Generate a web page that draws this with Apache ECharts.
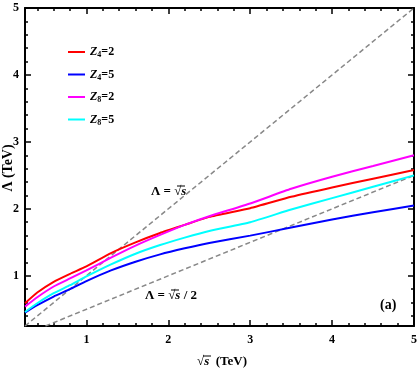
<!DOCTYPE html>
<html><head><meta charset="utf-8">
<script src="https://cdn.jsdelivr.net/npm/echarts@6/dist/echarts.min.js"></script>
<style>html,body{margin:0;padding:0;background:#fff}#c{width:420px;height:371px}</style>
</head><body><div id="c"></div>
<script>
// tick labels / tick positions
const xMajor = [1, 2, 3, 4, 5];
const yMajor = [1, 2, 3, 4, 5];
const minorTicks = [0.4,0.6,0.8,1.2,1.4,1.6,1.8,2.2,2.4,2.6,2.8,3.2,3.4,3.6,3.8,4.2,4.4,4.6,4.8];
const seriesNames = ['Z4=2', 'Z4=5', 'Z8=2', 'Z8=5'];
const seriesColors = ['#ff0000', '#0000ff', '#ff00ff', '#00ffff'];
// series values [sqrt(s) TeV, Lambda TeV]
const z4_2 = [[0.25,0.59],[0.4,0.75],[0.6,0.91],[0.8,1.03],[1.0,1.14],[1.3,1.34],[1.6,1.50],[1.9,1.64],[2.2,1.76],[2.5,1.88],[3.0,2.01],[3.5,2.18],[4.0,2.32],[4.5,2.45],[5.0,2.58]];
const z4_5 = [[0.25,0.45],[0.4,0.56],[0.6,0.69],[0.8,0.80],[1.0,0.92],[1.3,1.08],[1.6,1.21],[1.9,1.32],[2.2,1.41],[2.5,1.49],[3.0,1.60],[3.5,1.72],[4.0,1.84],[4.5,1.95],[5.0,2.05]];
const z8_2 = [[0.25,0.54],[0.4,0.68],[0.6,0.84],[0.8,0.96],[1.0,1.08],[1.3,1.27],[1.6,1.45],[1.9,1.61],[2.2,1.76],[2.5,1.89],[3.0,2.08],[3.5,2.30],[4.0,2.48],[4.5,2.64],[5.0,2.80]];
const z8_5 = [[0.25,0.46],[0.4,0.59],[0.6,0.74],[0.8,0.86],[1.0,0.99],[1.3,1.17],[1.6,1.33],[1.9,1.46],[2.2,1.57],[2.5,1.67],[3.0,1.80],[3.5,1.99],[4.0,2.16],[4.5,2.33],[5.0,2.50]];
// reference lines Lambda = sqrt(s), Lambda = sqrt(s)/2
const refLine1 = [[0.25,0.25],[5,5]];
const refLine2 = [[0.5,0.25],[5,2.5]];

const FONT = 'Liberation Serif';
const seriesData = [z4_2, z4_5, z8_2, z8_5];

function axis(dim, pos, ticks, len, labels, line) {
  return {
    type: 'value', min: 0.25, max: 5, position: pos,
    axisLine: {show: line, onZero: false, lineStyle: {color: '#000', width: 2}},
    axisTick: {show: true, inside: true, length: len, customValues: ticks, lineStyle: {color: '#000', width: 1.5}},
    axisLabel: labels ? {show: true, customValues: ticks, color: '#000', fontFamily: FONT, fontWeight: 'bold', fontSize: 12, margin: dim === 'x' ? 8 : 6} : {show: false},
    splitLine: {show: false}
  };
}

const chart = echarts.init(document.getElementById('c'));
const series = seriesNames.map((n, i) => ({
  name: n, type: 'line', data: seriesData[i], symbol: 'none', smooth: 0.15,
  lineStyle: {color: seriesColors[i], width: 2}, itemStyle: {color: seriesColors[i]}, z: 3
}));
series.push({name: 'ref1', type: 'line', data: refLine1, symbol: 'none', silent: true,
  lineStyle: {color: '#888', width: 1.5, type: [5, 3]}, z: 2});
series.push({name: 'ref2', type: 'line', data: refLine2, symbol: 'none', silent: true,
  lineStyle: {color: '#888', width: 1.5, type: [5, 3]}, z: 2});

const rich = {
  z: {fontFamily: FONT, fontStyle: 'italic', fontWeight: 'bold', fontSize: 12, lineHeight: 14, color: '#000'},
  s: {fontFamily: FONT, fontWeight: 'bold', fontSize: 8, lineHeight: 14, verticalAlign: 'bottom', color: '#000'},
  t: {fontFamily: FONT, fontWeight: 'bold', fontSize: 12, lineHeight: 14, color: '#000'}
};
const annRich = {
  a: {fontFamily: FONT, fontWeight: 'bold', fontSize: 13, fill: '#000'},
  b: {fontFamily: FONT, fontStyle: 'italic', fontWeight: 'bold', fontSize: 13, fill: '#000'}
};

chart.setOption({
  animation: false,
  grid: {left: 25, right: 3, top: 8, bottom: 45},
  xAxis: [
    axis('x', 'bottom', xMajor, 6, true, true),
    axis('x', 'bottom', minorTicks, 3, false, false),
    axis('x', 'top', xMajor, 6, false, true),
    axis('x', 'top', minorTicks, 3, false, false)
  ],
  yAxis: [
    axis('y', 'left', yMajor, 6, true, true),
    axis('y', 'left', minorTicks, 3, false, false),
    axis('y', 'right', yMajor, 6, false, true),
    axis('y', 'right', minorTicks, 3, false, false)
  ],
  legend: {
    data: seriesNames, orient: 'vertical', left: 63, top: 41,
    icon: 'rect', itemWidth: 17, itemHeight: 2, itemGap: 9.5,
    formatter: function (n) { return '{z|Z}{s|' + n.charAt(1) + '}{t|' + n.slice(2) + '}'; },
    textStyle: {rich: rich}
  },
  graphic: [
    {type: 'text', left: 151, top: 185, style: {text: '{a|Λ = √}{b|s}', rich: annRich}},
    {type: 'line', shape: {x1: 177, y1: 186, x2: 185, y2: 186}, style: {stroke: '#000', lineWidth: 1}},
    {type: 'text', left: 145, top: 289, style: {text: '{a|Λ = √}{b|s}{a| / 2}', rich: annRich}},
    {type: 'line', shape: {x1: 171, y1: 290, x2: 179, y2: 290}, style: {stroke: '#000', lineWidth: 1}},
    {type: 'text', left: 380, top: 298, style: {text: '(a)', fontFamily: FONT, fontWeight: 'bold', fontSize: 14, fill: '#000'}},
    {type: 'text', left: 197, top: 355, style: {text: '{a|√}{b|s}{a|  (TeV)}', rich: {a: {fontFamily: FONT, fontWeight: 'bold', fontSize: 13}, b: {fontFamily: FONT, fontStyle: 'italic', fontWeight: 'bold', fontSize: 13}}}},
    {type: 'line', shape: {x1: 203, y1: 356, x2: 211, y2: 356}, style: {stroke: '#000', lineWidth: 1}},
    {type: 'text', x: 8, y: 168, rotation: Math.PI / 2, style: {text: 'Λ (TeV)', fontFamily: FONT, fontWeight: 'bold', fontSize: 14, fill: '#000', align: 'center', verticalAlign: 'middle'}}
  ],
  series: series
});
</script></body></html>
